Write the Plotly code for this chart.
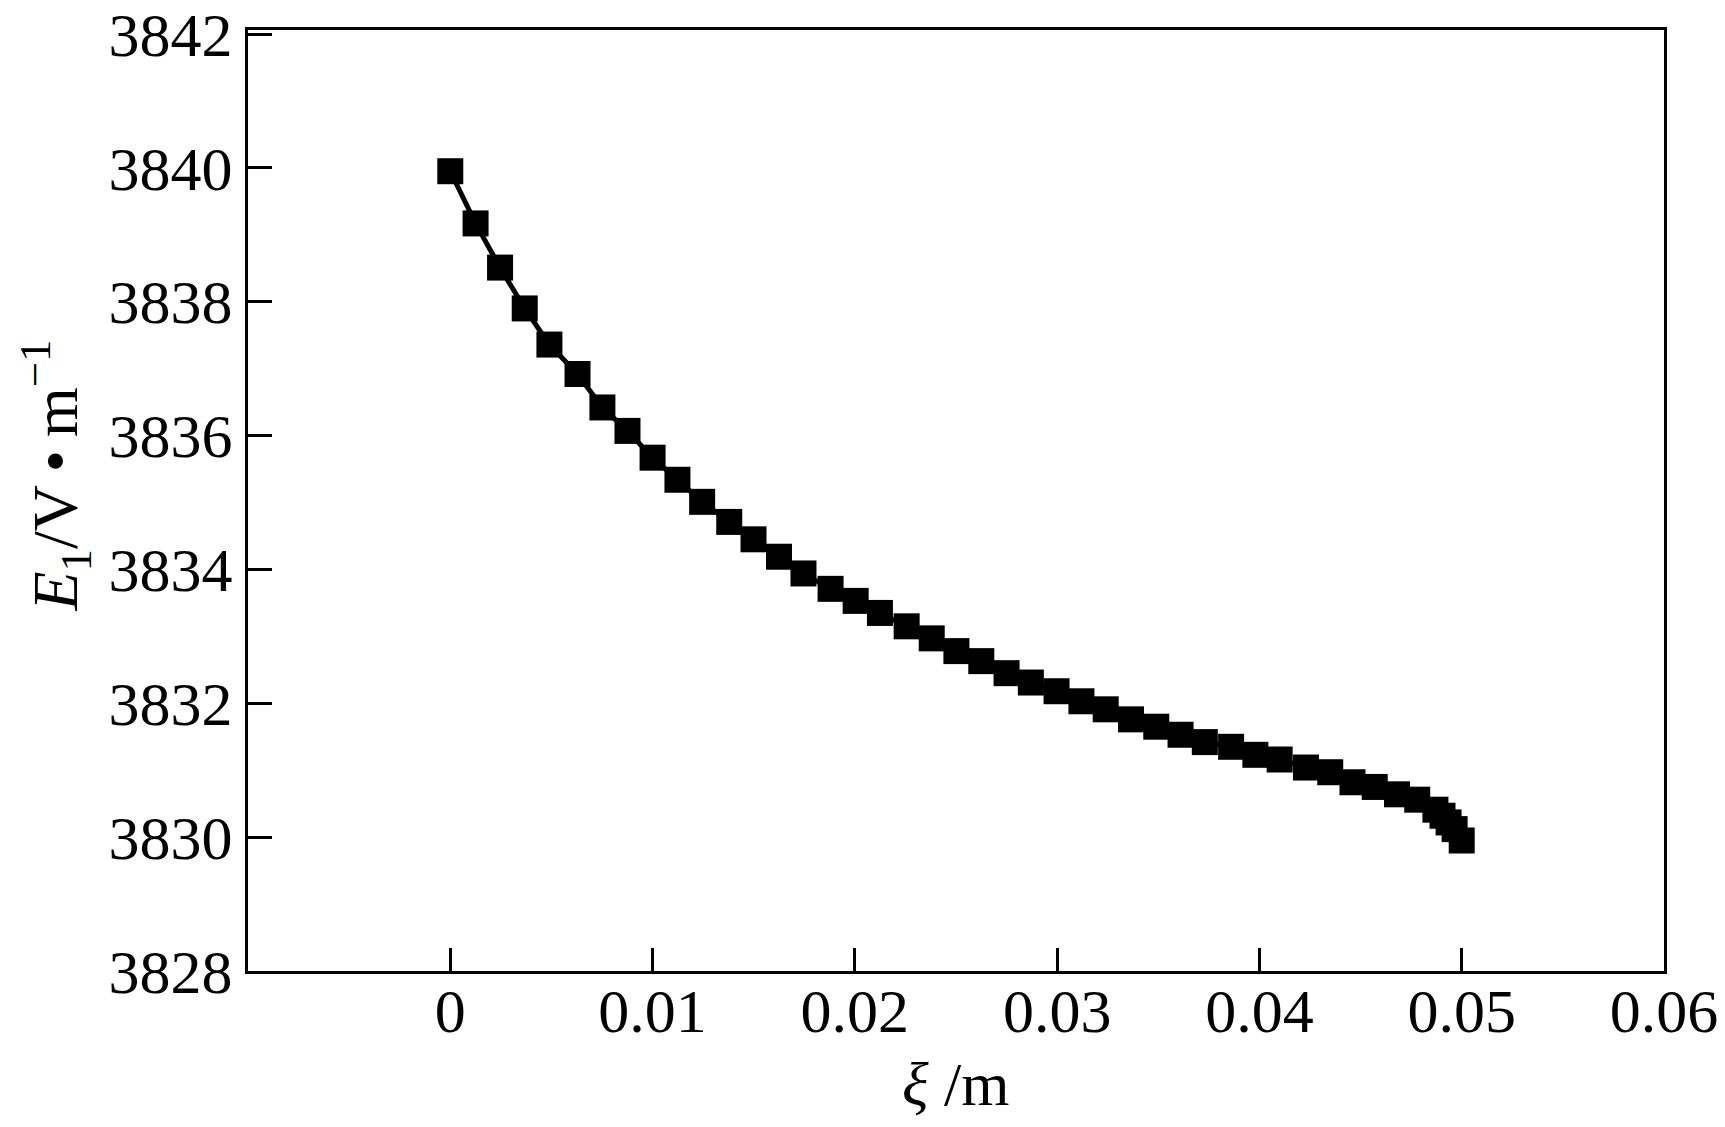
import plotly.graph_objects as go

xi = [0, 0.00125, 0.00246, 0.00368, 0.0049, 0.00629, 0.00752, 0.00876, 0.0100, 0.01123,
      0.01245, 0.01379, 0.01499, 0.01625, 0.01746, 0.0188, 0.02004, 0.02124, 0.02256, 0.0238,
      0.02502, 0.02625, 0.0275, 0.0287, 0.02997, 0.0312, 0.0324, 0.03365, 0.0349, 0.0361,
      0.0373, 0.0386, 0.0398, 0.041, 0.0423, 0.0435, 0.0446, 0.0457, 0.0468, 0.0478,
      0.0487, 0.04905, 0.04935, 0.04965, 0.05]
E1 = [3839.95, 3839.17, 3838.51, 3837.90, 3837.36, 3836.92, 3836.42, 3836.07, 3835.67, 3835.34,
      3835.01, 3834.71, 3834.45, 3834.19, 3833.94, 3833.71, 3833.53, 3833.35, 3833.15, 3832.97,
      3832.78, 3832.63, 3832.45, 3832.31, 3832.18, 3832.03, 3831.91, 3831.76, 3831.65, 3831.53,
      3831.42, 3831.35, 3831.23, 3831.16, 3831.04, 3830.97, 3830.82, 3830.75, 3830.64, 3830.56,
      3830.41, 3830.32, 3830.22, 3830.12, 3829.95]

x_ticks = [0, 0.01, 0.02, 0.03, 0.04, 0.05, 0.06]
x_labels = ["0", "0.01", "0.02", "0.03", "0.04", "0.05", "0.06"]
y_ticks = [3828, 3830, 3832, 3834, 3836, 3838, 3840, 3842]
y_labels = ["3828", "3830", "3832", "3834", "3836", "3838", "3840", "3842"]

FONT = "Liberation Serif, Times New Roman, serif"
FS = 62

fig = go.Figure()
fig.add_trace(go.Scatter(
    x=xi, y=E1, mode="lines+markers",
    line=dict(color="black", width=5),
    marker=dict(symbol="square", size=26, color="black"),
    showlegend=False,
))

fig.update_layout(
    width=1717, height=1119,
    margin=dict(l=240, r=61, t=22, b=156),
    paper_bgcolor="white", plot_bgcolor="white",
    font=dict(family=FONT, size=FS, color="black"),
    xaxis=dict(
        range=[-0.01, 0.06], tickvals=x_ticks, ticktext=x_labels,
        ticks="inside", ticklen=23, tickwidth=3, tickcolor="black",
        showline=True, linecolor="black", linewidth=3, mirror=True,
        showgrid=False, zeroline=False, ticklabelstandoff=-16,
        automargin=False, ticklabeloverflow="allow",
        tickfont=dict(family=FONT, size=FS),
    ),
    yaxis=dict(
        range=[3828, 3842.06], tickvals=y_ticks, ticktext=y_labels,
        ticks="inside", ticklen=24, tickwidth=3, tickcolor="black",
        showline=True, linecolor="black", linewidth=3, mirror=True,
        showgrid=False, zeroline=False,
        automargin=False, ticklabeloverflow="allow",
        tickfont=dict(family=FONT, size=FS),
    ),
    annotations=[
        dict(text="<i>ξ</i> /m", xref="paper", yref="paper", x=0.5, y=-0.12,
             xanchor="center", yanchor="middle", showarrow=False,
             font=dict(family=FONT, size=FS)),
        dict(text="<i>E</i><sub>1</sub>/V\u2009•\u2009m<sup>−1</sup>", xref="paper", yref="paper",
             x=-0.136, y=0.527, xanchor="center", yanchor="middle", textangle=-90,
             showarrow=False, font=dict(family=FONT, size=64)),
    ],
)

fig.write_html("out.html")
